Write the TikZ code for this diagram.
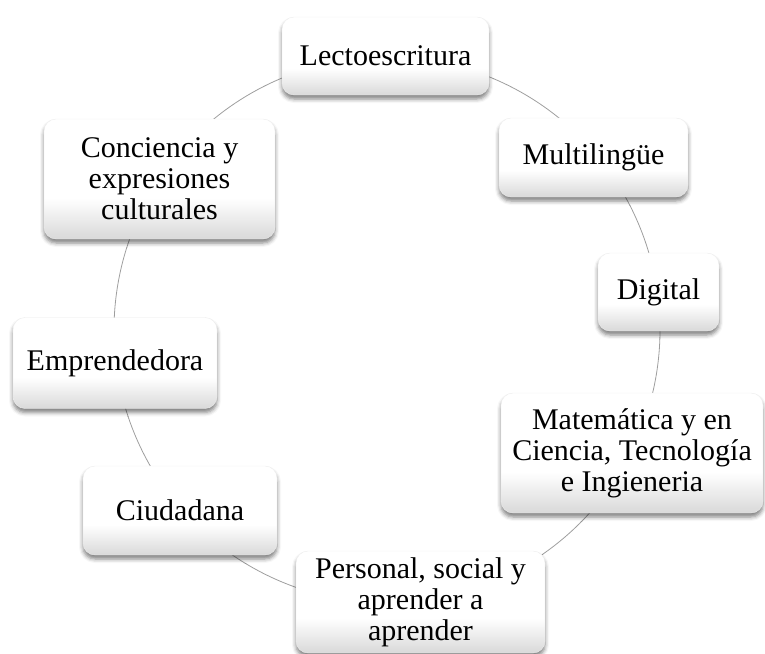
\documentclass[tikz,border=0pt]{standalone}
\usepackage{fontspec}
\setmainfont{Liberation Serif}
\usetikzlibrary{shadows.blur,calc,backgrounds}
\pgfdeclareverticalshading{boxshade}{100bp}{color(0bp)=(black!15); color(25bp)=(black!15); color(42bp)=(white); color(100bp)=(white)}
\tikzset{
  box/.style={rounded corners=12pt, shade, shading=boxshade, draw=black!7, line width=0.4pt,
    align=center, inner sep=0pt, font=\fontsize{30}{31}\selectfont,
    blur shadow={shadow xshift=0pt, shadow yshift=-4pt, shadow blur radius=4pt, shadow opacity=50}},
  ring/.style={draw=black!38, line width=0.8pt}
}
\begin{document}
\begin{tikzpicture}[x=1pt,y=1pt]
\useasboundingbox (0,0) rectangle (765,-653);
\coordinate (hub) at (387,-330);
\node[box, minimum width=207pt, minimum height=78pt] (lec) at (385.5,-56) {Lectoescritura};
\node[box, minimum width=189pt, minimum height=79pt] (mul) at (593.5,-157.5) {Multiling\"ue};
\node[box, minimum width=121pt, minimum height=78pt] (dig) at (658.5,-292) {Digital};
\node[box, minimum width=262pt, minimum height=120pt] (mat) at (632,-453) {Matemática y en\\Ciencia, Tecnología\\e Ingieneria};
\node[box, minimum width=249pt, minimum height=102pt] (per) at (420.5,-602) {Personal, social y\\aprender a\\aprender};
\node[box, minimum width=194pt, minimum height=89pt] (ciu) at (180,-510.5) {Ciudadana};
\node[box, minimum width=204pt, minimum height=91pt] (emp) at (115,-363) {Emprendedora};
\node[box, minimum width=231pt, minimum height=120pt] (con) at (159.5,-179) {Conciencia y\\expresiones\\culturales};
\begin{scope}[on background layer]
\foreach \a/\b in {lec/mul, mul/dig, dig/mat, mat/per, per/ciu, ciu/emp, emp/con, con/lec}{
  \draw[ring] let \p1=($(\a)-(hub)$), \p2=($(\b)-(hub)$),
    \n1={atan2(\y1,\x1)}, \n2={\n1 - mod(\n1 - atan2(\y2,\x2) + 720, 360)} in
    ($(hub)+(\n1:273pt)$) arc[start angle=\n1, end angle=\n2, radius=273pt];
}
\end{scope}
\end{tikzpicture}
\end{document}
